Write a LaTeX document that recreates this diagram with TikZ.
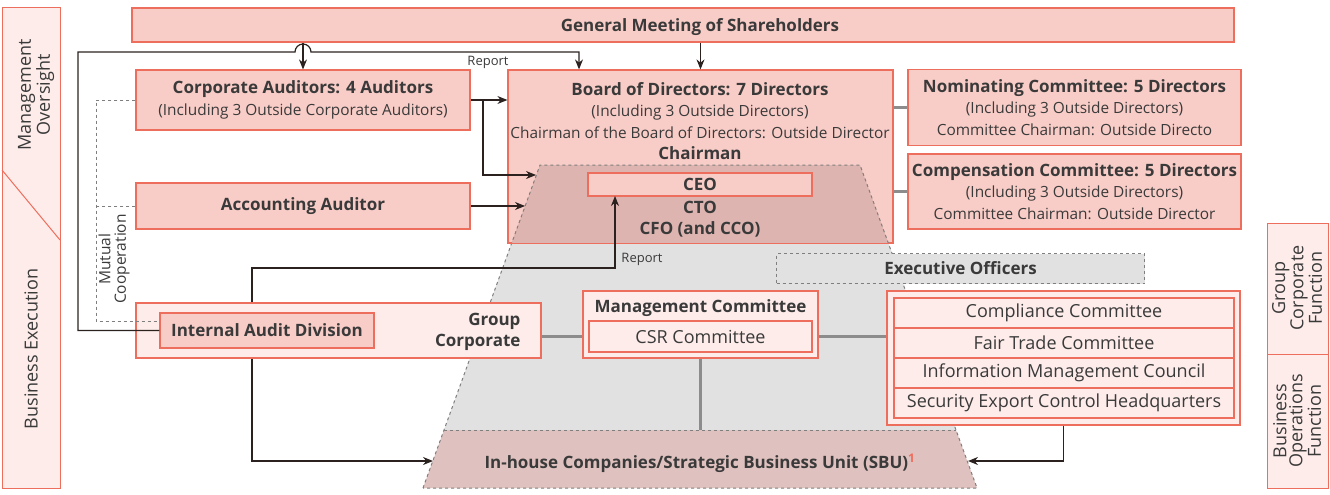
\documentclass[tikz,border=0pt]{standalone}
\usepackage{fontspec}
\setmainfont{Open Sans}
\usetikzlibrary{arrows.meta}
\definecolor{rim}{HTML}{EE6E5E}
\definecolor{pinkfill}{HTML}{F9CDC7}
\definecolor{palefill}{HTML}{FDECEA}
\definecolor{ceofill}{HTML}{DDB4B0}
\definecolor{execfill}{HTML}{E1E1E1}
\definecolor{sbufill}{HTML}{DFC2BF}
\definecolor{ink}{HTML}{3A3A3A}
\definecolor{wirecol}{HTML}{2B2220}
\definecolor{tiegray}{HTML}{8C8C8C}
\definecolor{dashgray}{HTML}{7F7F7F}
\newcommand\regtext{\fontsize{15.4}{21.5}\selectfont}
\newcommand\boldtext{\fontsize{17}{21.5}\selectfont\bfseries}
\newcommand\rowtext{\fontsize{18}{21}\selectfont}
\newcommand\smalltext{\fontsize{13}{15}\selectfont}
\newcommand\cooptext{\fontsize{15.5}{15.5}\selectfont}
\newcommand\sidetext{\fontsize{18}{16}\selectfont}

\begin{document}
\begin{tikzpicture}[x=1pt,y=-1pt,
  box/.style={draw=rim, fill=pinkfill, line width=1.2pt, inner sep=0pt, text=ink, align=center, font=\regtext},
  pale/.style={box, fill=palefill},
  row/.style={pale, minimum width=340pt, minimum height=30pt, font=\rowtext},
  wire/.style={draw=wirecol, line width=1.2pt},
  arr/.style={wire, -{Stealth[length=10pt,width=8pt]}},
  tie/.style={draw=tiegray, line width=2.5pt},
  coop/.style={draw=dashgray, dashed, line width=1pt},
  note/.style={text=ink, font=\smalltext}]
\useasboundingbox (0,0) rectangle (1330,495);

\draw[draw=rim, fill=palefill, line width=1pt] (2,8) rectangle (60,488);
\draw[draw=rim, line width=1pt] (2,170) -- (60,240);
\node[rotate=90, align=center, text=ink, font=\sidetext] (mo) at (36,95) {Management\\Oversight};
\node[rotate=90, text=ink, font=\sidetext] (be) at (31,349) {Business Execution};
\draw[draw=rim, fill=palefill, line width=1pt] (1267,223) rectangle (1328,488);
\draw[draw=rim, line width=1pt] (1267,354) -- (1328,354);
\node[rotate=90, align=center, text=ink, font=\sidetext] (gcf) at (1297,288) {Group\\Corporate\\Function};
\node[rotate=90, align=center, text=ink, font=\sidetext] (bof) at (1297,421) {Business\\Operations\\Function};

\node[box, minimum width=1102pt, minimum height=34pt] (gm) at (683,25) {};
\node[text=ink, font=\boldtext] (gmtxt) at (700,27) {General Meeting of Shareholders};
\node[box, minimum width=334pt, minimum height=60pt] (ca) at (303,100) {{\boldtext Corporate Auditors: 4 Auditors}\\(Including 3 Outside Corporate Auditors)};
\node[box, minimum width=334pt, minimum height=46pt, font=\boldtext] (aa) at (303,206) {Accounting Auditor};
\node[box, minimum width=385pt, minimum height=173pt] (board) at (700.5,156.5) {};
\node[text=ink, align=center, font=\regtext] (boardtxt) at (700,121) {{\boldtext Board of Directors: 7 Directors}\\(Including 3 Outside Directors)\\Chairman of the Board of Directors: Outside Director\\{\boldtext Chairman}};
\node[box, minimum width=333pt, minimum height=76pt] (nom) at (1074.5,107.5) {{\boldtext Nominating Committee: 5 Directors}\\(Including 3 Outside Directors)\\Committee Chairman: Outside Directo};
\node[box, minimum width=333pt, minimum height=75pt] (comp) at (1074.5,191.5) {{\boldtext Compensation Committee: 5 Directors}\\(Including 3 Outside Directors)\\Committee Chairman: Outside Director};

\fill[ceofill] (540,165) -- (860,165) -- (888.5,243) -- (511.5,243) -- cycle;
\fill[execfill] (511.5,243) -- (888.5,243) -- (956,430) -- (444,430) -- cycle;
\fill[sbufill] (444,430) -- (956,430) -- (977,488) -- (423,488) -- cycle;
\draw[coop] (423,488) -- (540,165) -- (860,165) -- (977,488) -- cycle;
\draw[coop] (444,430) -- (956,430);
\draw[draw=rim, line width=1.2pt] (board.south west) rectangle (board.north east);

\node[box, minimum width=224pt, minimum height=23pt, font=\boldtext] (ceo) at (700,184.5) {CEO};
\node[text=ink, align=center, font=\boldtext] (cxo) at (700,219) {CTO\\CFO (and CCO)};
\node[draw=dashgray, dashed, fill=execfill, line width=1pt, minimum width=368pt, minimum height=30pt, text=ink, font=\boldtext] (exo) at (960.5,268.5) {Executive Officers};

\node[pale, minimum width=405pt, minimum height=55pt] (gc) at (338.5,330.5) {};
\node[box, minimum width=214pt, minimum height=35pt, font=\boldtext] (iad) at (267,330.5) {Internal Audit Division};
\node[text=ink, align=right, font=\boldtext, anchor=east] (gctxt) at (524,332) {Group\\Corporate};
\node[pale, minimum width=235pt, minimum height=67pt] (mc) at (700.5,324.5) {};
\node[text=ink, font=\boldtext] (mctxt) at (700.5,308) {Management Committee};
\node[pale, minimum width=223pt, minimum height=31pt, font=\rowtext] (csr) at (700.5,336.5) {CSR Committee};
\node[pale, minimum width=353pt, minimum height=134pt] (cg) at (1063.5,358) {};
\node[row] (cc) at (1064,313) {Compliance Committee};
\node[row] (ftc) at (1064,343) {Fair Trade Committee};
\node[row] (imc) at (1064,373) {Information Management Council};
\node[row] (sec) at (1064,403) {Security Export Control Headquarters};
\node[text=ink, font=\boldtext] (sbu) at (700,463) {In-house Companies/Strategic Business Unit (SBU)\textsuperscript{\textcolor{rim}{1}}};

\node[rotate=90, align=center, text=ink, font=\cooptext] (mutual) at (114,259) {Mutual\\Cooperation};
\node[note] (rep1) at (488,62) {Report};
\node[note] (rep2) at (642,259) {Report};

\coordinate (loopL) at (78,52);
\coordinate (hopL) at (295,52);
\coordinate (rpt) at (579,52);
\coordinate (cajn) at (483,100);
\coordinate (ceoin) at (536,175);
\coordinate (ceoin2) at (525,206);
\coordinate (rpc) at (252,268);
\coordinate (ceorep) at (615,196);
\coordinate (sbuin) at (433,461);
\coordinate (sbuin2) at (968,461);
\coordinate (sbutop) at (700.5,430);
\coordinate (coopB) at (96,321);

\path[tie] (board.east |- nom.west) -- (nom.west);
\path[tie] (board.east |- comp.west) -- (comp.west);
\path[tie] (gc.east |- csr.west) -- (mc.west |- csr.west);
\path[tie] (mc.east |- csr.east) -- (cg.west |- csr.east);
\path[tie] (mc.south) -- (sbutop);

\path[coop] (ca.west) -| (coopB) -- (coopB -| iad.west);
\path[coop] (aa.west) -- (aa.west -| coopB);

\path[arr] (gm.south -| ca.north) -- (ca.north);
\path[arr] (gm.south -| board.north) -- (board.north);
\path[arr] (iad.west) -| (loopL) -- (hopL) arc[start angle=180, end angle=0, radius=8pt] -- (rpt) -- (rpt |- board.north);
\path[arr] (ca.east) -- (ca.east -| board.west);
\path[arr] (cajn) |- (ceoin);
\path[arr] (aa.east) -- (ceoin2);
\path[arr] (gc.north -| rpc) -- (rpc) -| (ceorep);
\path[arr] (gc.south -| rpc) |- (sbuin);
\path[arr] (cg.south) |- (sbuin2);
\end{tikzpicture}
\end{document}
